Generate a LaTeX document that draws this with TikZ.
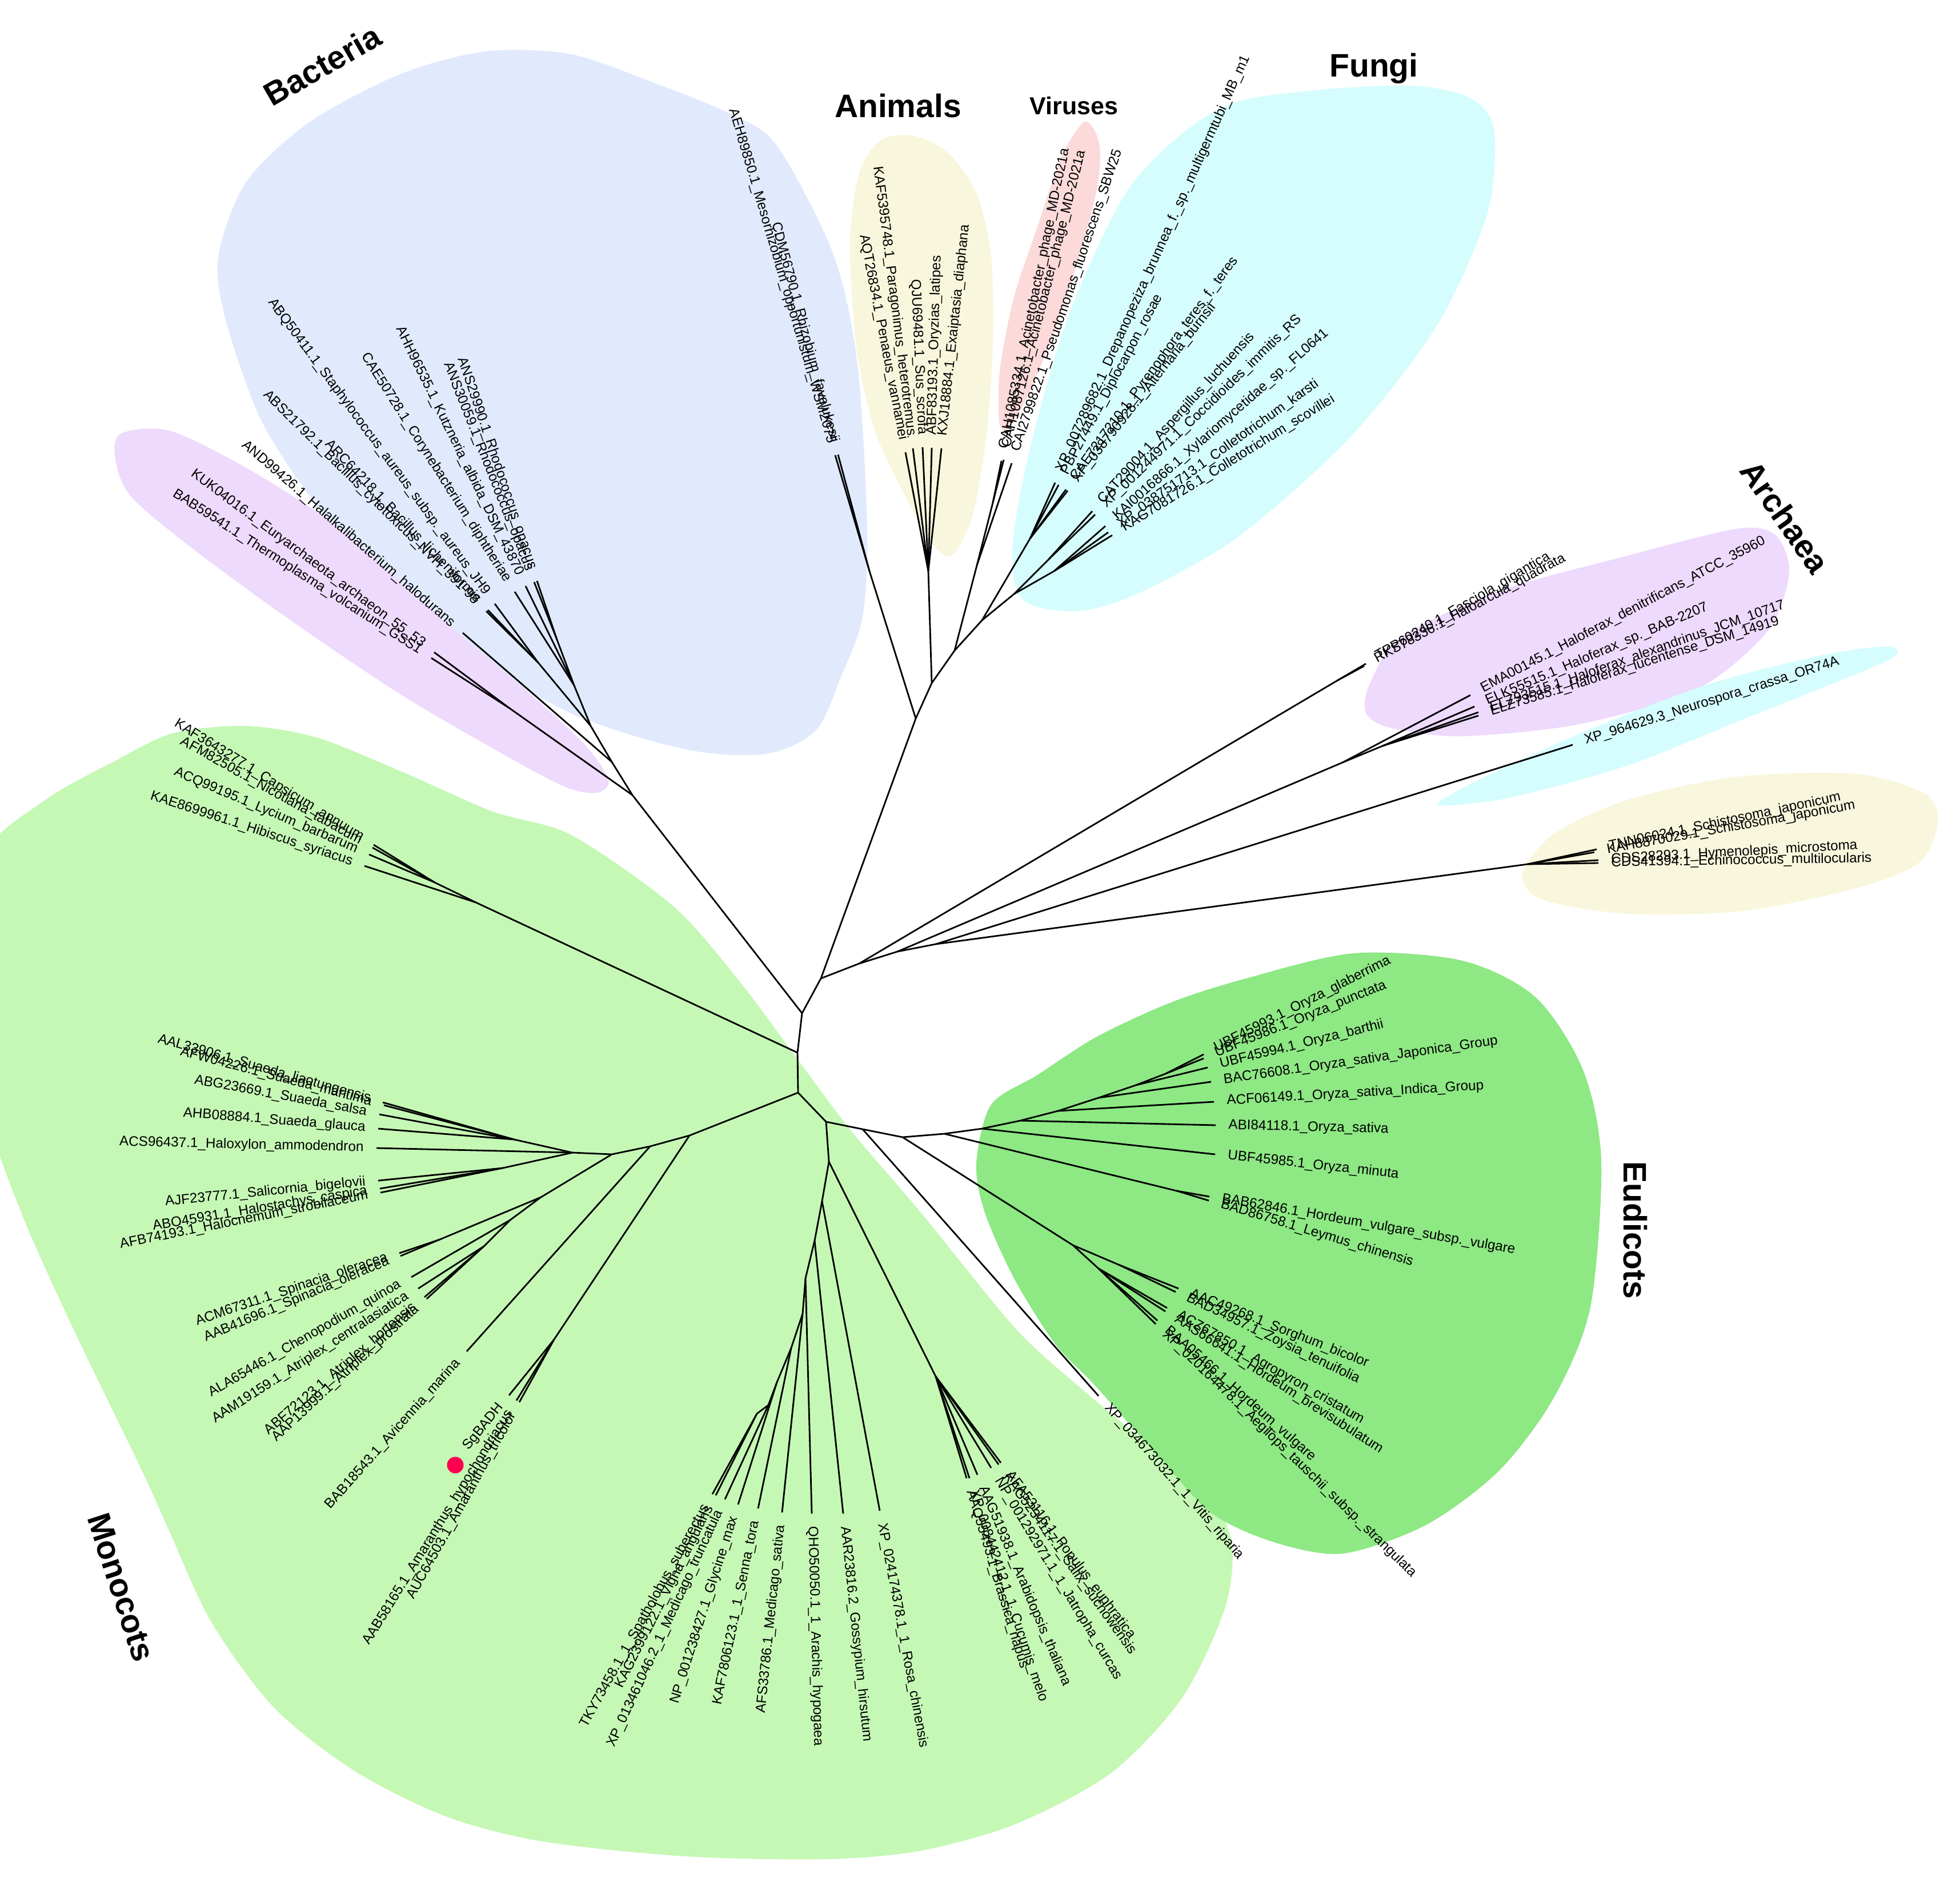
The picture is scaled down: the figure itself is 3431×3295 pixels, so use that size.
\documentclass[tikz,border=0pt]{standalone}
\usepackage{fontspec}
\setmainfont{Liberation Sans}
\definecolor{bacfill}{RGB}{225,234,253}
\definecolor{arcfill}{RGB}{238,218,252}
\definecolor{anifill}{RGB}{248,246,220}
\definecolor{virfill}{RGB}{252,218,218}
\definecolor{funfill}{RGB}{214,253,253}
\definecolor{monfill}{RGB}{197,248,181}
\definecolor{eudfill}{RGB}{142,232,132}
\definecolor{dotred}{RGB}{255,0,80}
\begin{document}
\begin{tikzpicture}[x=0.01cm,y=-0.01cm,
	br/.style={line width=0.8pt,line join=round},
	lr/.style={sloped,pos=1,anchor=west,inner xsep=6pt,inner ysep=0pt,font=\fontsize{6.9}{8}\selectfont},
	ll/.style={lr,anchor=east},
	clade/.style={font=\fontsize{16.2}{19}\selectfont\bfseries}]
\useasboundingbox (0,0) rectangle (3431,3295);
% clade shading
\fill[bacfill] plot[smooth cycle] coordinates {(1150,147) (1280,200) (1360,255) (1459,446) (1501,638) (1518,925) (1510,1080) (1473,1183) (1428,1279) (1340,1320) (1200,1312) (1000,1249) (800,1130) (640,990) (530,852) (453,727) (395,560) (382,450) (430,320) (540,215) (700,130) (850,90) (1000,95)};
\fill[arcfill] plot[smooth cycle] coordinates {(210,760) (300,755) (450,830) (600,930) (780,1090) (900,1190) (1020,1300) (1065,1365) (1045,1388) (990,1378) (880,1320) (700,1215) (500,1080) (330,955) (230,870) (203,810)};
\fill[anifill] plot[smooth cycle] coordinates {(1543,245) (1600,238) (1660,268) (1710,340) (1735,450) (1738,600) (1727,760) (1703,900) (1668,972) (1635,955) (1585,870) (1530,750) (1498,600) (1488,420) (1505,300)};
\fill[virfill] plot[smooth cycle] coordinates {(1899,213) (1924,250) (1922,320) (1895,430) (1853,560) (1805,680) (1770,745) (1750,745) (1750,650) (1775,520) (1815,400) (1858,275)};
\fill[funfill] plot[smooth cycle] coordinates {(1790,1050) (1772,960) (1802,789) (1868,559) (1965,347) (2057,244) (2159,180) (2312,157) (2470,150) (2570,170) (2615,225) (2604,372) (2516,569) (2363,766) (2166,941) (1990,1040) (1884,1070)};
\fill[arcfill] plot[smooth cycle] coordinates {(2391,1248) (2433,1274) (2557,1289) (2764,1268) (2970,1207) (3094,1105) (3132,1003) (3108,937) (3039,926) (2833,977) (2626,1034) (2453,1115) (2398,1197)};
\fill[funfill] plot[smooth cycle] coordinates {(2520,1403) (2620,1350) (2800,1270) (3000,1195) (3200,1145) (3305,1132) (3318,1148) (3250,1180) (3050,1260) (2850,1340) (2650,1395) (2540,1410)};
\fill[anifill] plot[smooth cycle] coordinates {(2665,1530) (2720,1460) (2850,1400) (3040,1360) (3250,1355) (3370,1390) (3392,1440) (3360,1510) (3250,1555) (3050,1595) (2850,1600) (2700,1575)};
\fill[monfill] plot[smooth cycle] coordinates {(-30,1500) (80,1400) (200,1333) (302,1284) (430,1271) (557,1292) (710,1354) (863,1421) (1000,1462) (1179,1587) (1296,1720) (1400,1860) (1490,1980) (1612,2123) (1776,2324) (1888,2427) (2000,2520) (2111,2607) (2156,2701) (2144,2816) (2069,2973) (1945,3104) (1779,3193) (1613,3240) (1447,3255) (1199,3250) (950,3224) (780,3180) (620,3100) (480,2990) (370,2840) (296,2680) (250,2578) (130,2330) (40,2130) (-20,1950) (-40,1700)};
\fill[eudfill] plot[smooth cycle] coordinates {(1735,1934) (1816,1882) (1920,1815) (2050,1755) (2178,1714) (2369,1669) (2560,1682) (2688,1746) (2771,1873) (2803,2033) (2784,2288) (2720,2447) (2624,2575) (2496,2670) (2350,2720) (2230,2700) (2122,2650) (2031,2554) (1918,2427) (1847,2353) (1775,2238) (1724,2123) (1709,2037)};
% clade names
\node[clade,rotate=30] (bac) at (564,114) {Bacteria};
\node[clade] (ani) at (1572,185) {Animals};
\node[clade,font=\fontsize{12.2}{14}\selectfont\bfseries] (vir) at (1880,185) {Viruses};
\node[clade] (fun) at (2405,120) {Fungi};
\node[clade,rotate=-55] (arc) at (3125,905) {Archaea};
\node[clade,rotate=-90] (eud) at (2863,2154) {Eudicots};
\node[clade,rotate=-72] (mon) at (212,2779) {Monocots};
% inner nodes
\coordinate (A) at (1404,1774);
\coordinate (B) at (1437,1713);
\coordinate (B1) at (1504,1687);
\coordinate (B2) at (1571,1666);
\coordinate (B3) at (1638,1653);
\coordinate (FH) at (2340,1192);
\coordinate (HX1) at (2350,1335);
\coordinate (HX2) at (2420,1306);
\coordinate (SJ) at (2674,1513);
\coordinate (C) at (1603,1258);
\coordinate (RZ) at (1522,1000);
\coordinate (G) at (1631,1196);
\coordinate (AN) at (1625,1000);
\coordinate (H) at (1671,1139);
\coordinate (V1) at (1710,990);
\coordinate (VP) at (1738,880);
\coordinate (I) at (1719,1086);
\coordinate (FG1) at (1803,943);
\coordinate (J) at (1775,1040);
\coordinate (FG2a) at (1835,980);
\coordinate (FG2b) at (1845,1000);
\coordinate (K) at (1107,1392);
\coordinate (AK) at (892,1240);
\coordinate (L) at (1071,1334);
\coordinate (M) at (1034,1271);
\coordinate (MR) at (1005,1200);
\coordinate (R1) at (975,1120);
\coordinate (BG) at (942,1160);
\coordinate (D) at (1396,1843);
\coordinate (SO1) at (833,1580);
\coordinate (SO2) at (761,1545);
\coordinate (E) at (1397,1913);
\coordinate (E1) at (1207,1988);
\coordinate (AM) at (970,2345);
\coordinate (E2) at (1138,2007);
\coordinate (E3) at (1071,2021);
\coordinate (CH1) at (947,2096);
\coordinate (SP) at (770,2170);
\coordinate (CH2) at (893,2136);
\coordinate (CH3) at (847,2182);
\coordinate (E4) at (1002,2018);
\coordinate (SU) at (900,1995);
\coordinate (SA) at (880,2045);
\coordinate (F) at (1446,1964);
\coordinate (Fa) at (1510,1977);
\coordinate (Fb) at (1580,1991);
\coordinate (EL) at (1878,2180);
\coordinate (S1) at (1960,2215);
\coordinate (S2) at (1923,2221);
\coordinate (Fc) at (1653,1985);
\coordinate (BP) at (2060,2085);
\coordinate (Fd) at (1719,1976);
\coordinate (Fe) at (1786,1962);
\coordinate (Ff) at (1852,1945);
\coordinate (Fg) at (1923,1922);
\coordinate (Fh) at (1988,1900);
\coordinate (Fi) at (2040,1880);
\coordinate (F2) at (1451,2034);
\coordinate (PG) at (1638,2410);
\coordinate (F3) at (1439,2103);
\coordinate (F4) at (1426,2172);
\coordinate (F5) at (1410,2238);
\coordinate (F6) at (1405,2300);
\coordinate (F7) at (1385,2360);
\coordinate (F8) at (1360,2420);
\coordinate (F9) at (1345,2460);
\coordinate (TK) at (1325,2475);
% backbone
\draw[br] (K) -- (A) -- (D) -- (E) -- (F) -- (F2) -- (F3) -- (F4) -- (F5) -- (F6) -- (F7) -- (F8) -- (F9) -- (TK);
\draw[br] (A) -- (B) -- (C) -- (G) -- (H) -- (I) -- (J) -- (FG2a);
\draw[br] (B) -- (B1) -- (B2) -- (B3) -- (SJ);
\draw[br] (B1) -- (FH) (B2) -- (HX1) -- (HX2) (C) -- (RZ) (G) -- (AN) (H) -- (V1) -- (VP) (I) -- (FG1) (J) -- (FG2b);
\draw[br] (K) -- (L) -- (M) -- (MR) -- (R1) (K) -- (AK) (M) -- (BG);
\draw[br] (D) -- (SO1) -- (SO2);
\draw[br] (E) -- (E1) -- (E2) -- (E3) -- (E4) -- (SU) (E1) -- (AM) (E3) -- (CH1) -- (CH2) -- (CH3) (CH1) -- (SP) (E4) -- (SA);
\draw[br] (F) -- (Fa) -- (Fb) -- (Fc) -- (Fd) -- (Fe) -- (Ff) -- (Fg) -- (Fh) -- (Fi) (Fb) -- (EL) -- (S1) (EL) -- (S2) (Fc) -- (BP) (F2) -- (PG);
% bacteria and archaea (left)
\coordinate (tAEH) at (1462,797); \draw[br] (RZ) -- (tAEH) node[ll] (lAEH) {AEH89850.1\_Mesorhizobium\_opportunistum\_WSM2075};
\coordinate (tCDM) at (1467,796); \draw[br] (RZ) -- (tCDM) node[ll] (lCDM) {CDM56790.1\_Rhizobium\_favelukesii};
\coordinate (tANSa) at (940,1017); \draw[br] (R1) -- (tANSa) node[ll] (lANSa) {ANS29990.1\_Rhodococcus\_opacus};
\coordinate (tANSb) at (935,1019); \draw[br] (R1) -- (tANSb) node[ll] (lANSb) {ANS30059.1\_Rhodococcus\_opacus};
\coordinate (tAHH) at (920,1026); \draw[br] (MR) -- (tAHH) node[ll] (lAHH) {AHH96535.1\_Kutzneria\_albida\_DSM\_43870};
\coordinate (tCAE) at (901,1036); \draw[br] (MR) -- (tCAE) node[ll] (lCAE) {CAE50728.1\_Corynebacterium\_diphtheriae};
\coordinate (tABQ) at (866,1057); \draw[br] (BG) -- (tABQ) node[ll] (lABQ) {ABQ50411.1\_Staphylococcus\_aureus\_subsp.\_aureus\_JH9};
\coordinate (tARC) at (854,1068); \draw[br] (BG) -- (tARC) node[ll] (lARC) {ARC64218.1\_Bacillus\_licheniformis};
\coordinate (tABS) at (851,1070); \draw[br] (BG) -- (tABS) node[ll] (lABS) {ABS21792.1\_Bacillus\_cytotoxicus\_NVH\_391-98};
\coordinate (tAND) at (810,1108); \draw[br] (L) -- (tAND) node[ll] (lAND) {AND99426.1\_Halalkalibacterium\_halodurans};
\coordinate (tKUK) at (760,1142); \draw[br] (AK) -- (tKUK) node[ll] (lKUK) {KUK04016.1\_Euryarchaeota\_archaeon\_55\_53};
\coordinate (tBABt) at (755,1152); \draw[br] (AK) -- (tBABt) node[ll] (lBABt) {BAB59541.1\_Thermoplasma\_volcanium\_GSS1};
% animals, viruses, fungi
\coordinate (tKAFp) at (1598,785); \draw[br] (AN) -- (tKAFp) node[ll] (lKAFp) {KAF5395748.1\_Paragonimus\_heterotremus};
\coordinate (tAQT) at (1585,792); \draw[br] (AN) -- (tAQT) node[ll] (lAQT) {AQT26834.1\_Penaeus\_vannamei};
\coordinate (tQJU) at (1615,783); \draw[br] (AN) -- (tQJU) node[ll] (lQJU) {QJU69481.1\_Sus\_scrofa};
\coordinate (tABFo) at (1631,784); \draw[br] (AN) -- (tABFo) node[lr] (lABFo) {ABF83193.1\_Oryzias\_latipes};
\coordinate (tKXJ) at (1648,785); \draw[br] (AN) -- (tKXJ) node[lr] (lKXJ) {KXJ18884.1\_Exaiptasia\_diaphana};
\coordinate (tCAHa) at (1753,807); \draw[br] (VP) -- (tCAHa) node[lr] (lCAHa) {CAH1085334.1\_Acinetobacter\_phage\_MD-2021a};
\coordinate (tCAHb) at (1757,805); \draw[br] (VP) -- (tCAHb) node[lr] (lCAHb) {CAH1087126.1\_Acinetobacter\_phage\_MD-2021a};
\coordinate (tCAI) at (1771,811); \draw[br] (V1) -- (tCAI) node[lr] (lCAI) {CAI2799822.1\_Pseudomonas\_fluorescens\_SBW25};
\coordinate (tDRE) at (1847,845); \draw[br] (FG1) -- (tDRE) node[lr] (lDRE) {XP\_007289682.1\_Drepanopeziza\_brunnea\_f.\_sp.\_multigermtubi\_MB\_m1};
\coordinate (tPBP) at (1853,849); \draw[br] (FG1) -- (tPBP) node[lr] (lPBP) {PBP27449.1\_Diplocarpon\_rosae};
\coordinate (tPYR) at (1866,857); \draw[br] (FG1) -- (tPYR) node[lr] (lPYR) {CAE7217210.1\_Pyrenophora\_teres\_f.\_teres};
\coordinate (tALT) at (1869,859); \draw[br] (FG1) -- (tALT) node[lr] (lALT) {XP\_038790928.1\_Alternaria\_burnsii};
\coordinate (tCAT) at (1912,895); \draw[br] (FG2a) -- (tCAT) node[lr] (lCAT) {CAT29004.1\_Aspergillus\_luchuensis};
\coordinate (tCOC) at (1917,901); \draw[br] (FG2a) -- (tCOC) node[lr] (lCOC) {XP\_001244971.1\_Coccidioides\_immitis\_RS};
\coordinate (tKAI) at (1935,921); \draw[br] (FG2b) -- (tKAI) node[lr] (lKAI) {KAI0016866.1\_Xylariomycetidae\_sp.\_FL0641};
\coordinate (tKAR) at (1940,932); \draw[br] (FG2b) -- (tKAR) node[lr] (lKAR) {XP\_038751713.1\_Colletotrichum\_karsti};
\coordinate (tSCO) at (1947,937); \draw[br] (FG2b) -- (tSCO) node[lr] (lSCO) {KAG7081726.1\_Colletotrichum\_scovillei};
% right side
\coordinate (tTPP) at (2391,1162); \draw[br] (FH) -- (tTPP) node[lr] (lTPP) {TPP60240.1\_Fasciola\_gigantica};
\coordinate (tRKS) at (2388,1166); \draw[br] (FH) -- (tRKS) node[lr] (lRKS) {RKS78336.1\_Haloarcula\_quadrata};
\coordinate (tEMA) at (2574,1217); \draw[br] (HX1) -- (tEMA) node[lr] (lEMA) {EMA00145.1\_Haloferax\_denitrificans\_ATCC\_35960};
\coordinate (tELK) at (2581,1237); \draw[br] (HX2) -- (tELK) node[lr] (lELK) {ELK55515.1\_Haloferax\_sp.\_BAB-2207};
\coordinate (tELZa) at (2588,1247); \draw[br] (HX2) -- (tELZa) node[lr] (lELZa) {ELZ93515.1\_Haloferax\_alexandrinus\_JCM\_10717};
\coordinate (tELZb) at (2588,1253); \draw[br] (HX2) -- (tELZb) node[lr] (lELZb) {ELZ73585.1\_Haloferax\_lucentense\_DSM\_14919};
\coordinate (tNEU) at (2753,1304); \draw[br] (B3) -- (tNEU) node[lr] (lNEU) {XP\_964629.3\_Neurospora\_crassa\_OR74A};
\coordinate (tTNN) at (2795,1487); \draw[br] (SJ) -- (tTNN) node[lr] (lTNN) {TNN06024.1\_Schistosoma\_japonicum};
\coordinate (tKAH) at (2791,1492); \draw[br] (SJ) -- (tKAH) node[lr] (lKAH) {KAH8870029.1\_Schistosoma\_japonicum};
\coordinate (tHYM) at (2798,1506); \draw[br] (SJ) -- (tHYM) node[lr] (lHYM) {CDS28293.1\_Hymenolepis\_microstoma};
\coordinate (tECH) at (2798,1511); \draw[br] (SJ) -- (tECH) node[lr] (lECH) {CDS41394.1\_Echinococcus\_multilocularis};
% eudicots group
\coordinate (tUBFa) at (2107,1846); \draw[br] (Fi) -- (tUBFa) node[lr] (lUBFa) {UBF45993.1\_Oryza\_glaberrima};
\coordinate (tUBFb) at (2107,1853); \draw[br] (Fi) -- (tUBFb) node[lr] (lUBFb) {UBF45986.1\_Oryza\_punctata};
\coordinate (tUBFc) at (2114,1869); \draw[br] (Fh) -- (tUBFc) node[lr] (lUBFc) {UBF45994.1\_Oryza\_barthii};
\coordinate (tBAC) at (2120,1894); \draw[br] (Fg) -- (tBAC) node[lr] (lBAC) {BAC76608.1\_Oryza\_sativa\_Japonica\_Group};
\coordinate (tACF) at (2125,1929); \draw[br] (Ff) -- (tACF) node[lr] (lACF) {ACF06149.1\_Oryza\_sativa\_Indica\_Group};
\coordinate (tABI) at (2128,1970); \draw[br] (Fe) -- (tABI) node[lr] (lABI) {ABI84118.1\_Oryza\_sativa};
\coordinate (tUBFd) at (2127,2021); \draw[br] (Fd) -- (tUBFd) node[lr] (lUBFd) {UBF45985.1\_Oryza\_minuta};
\coordinate (tBABh) at (2117,2095); \draw[br] (BP) -- (tBABh) node[lr] (lBABh) {BAB62846.1\_Hordeum\_vulgare\_subsp.\_vulgare};
\coordinate (tBADl) at (2116,2102); \draw[br] (BP) -- (tBADl) node[lr] (lBADl) {BAD86758.1\_Leymus\_chinensis};
\coordinate (tAAC) at (2063,2256); \draw[br] (S1) -- (tAAC) node[lr] (lAAC) {AAC49268.1\_Sorghum\_bicolor};
\coordinate (tBADz) at (2058,2262); \draw[br] (S1) -- (tBADz) node[lr] (lBADz) {BAD34957.1\_Zoysia\_tenuifolia};
\coordinate (tACZ) at (2043,2290); \draw[br] (S2) -- (tACZ) node[lr] (lACZ) {ACZ67850.1\_Agropyron\_cristatum};
\coordinate (tAAS) at (2040,2296); \draw[br] (S2) -- (tAAS) node[lr] (lAAS) {AAS66641.1\_Hordeum\_brevisubulatum};
\coordinate (tBAA) at (2026,2312); \draw[br] (S2) -- (tBAA) node[lr] (lBAA) {BAA05466.1\_Hordeum\_vulgare};
\coordinate (tAEG) at (2023,2318); \draw[br] (S2) -- (tAEG) node[lr] (lAEG) {XP\_020164478.1\_Aegilops\_tauschii\_subsp.\_strangulata};
\coordinate (tVIT) at (1923,2444); \draw[br] (Fa) -- (tVIT) node[lr] (lVIT) {XP\_034673032.1\_1\_Vitis\_riparia};
% lower fan
\coordinate (tPOP) at (1752,2561); \draw[br] (PG) -- (tPOP) node[lr] (lPOP) {AFA53116.1\_Populus\_euphratica};
\coordinate (tSAL) at (1748,2564); \draw[br] (PG) -- (tSAL) node[lr] (lSAL) {KAG5234117.1\_Salix\_suchowensis};
\coordinate (tJAT) at (1735,2570); \draw[br] (PG) -- (tJAT) node[lr] (lJAT) {NP\_001292971.1\_1\_Jatropha\_curcas};
\coordinate (tARA) at (1711,2582); \draw[br] (PG) -- (tARA) node[lr] (lARA) {AAG51938.1\_Arabidopsis\_thaliana};
\coordinate (tCUC) at (1697,2588); \draw[br] (PG) -- (tCUC) node[lr] (lCUC) {XP\_008442412.1\_1\_Cucumis\_melo};
\coordinate (tBRA) at (1692,2588); \draw[br] (PG) -- (tBRA) node[lr] (lBRA) {AAQ55493.1\_Brassica\_napus};
\coordinate (tROS) at (1540,2645); \draw[br] (F3) -- (tROS) node[lr] (lROS) {XP\_024174378.1\_1\_Rosa\_chinensis};
\coordinate (tGOS) at (1476,2650); \draw[br] (F4) -- (tGOS) node[lr] (lGOS) {AAR23816.2\_Gossypium\_hirsutum};
\coordinate (tQHO) at (1421,2650); \draw[br] (F5) -- (tQHO) node[lr] (lQHO) {QHO50050.1\_1\_Arachis\_hypogaea};
\coordinate (tAFS) at (1369,2648); \draw[br] (F6) -- (tAFS) node[ll] (lAFS) {AFS33786.1\_Medicago\_sativa};
\coordinate (tSEN) at (1327,2641); \draw[br] (F7) -- (tSEN) node[ll] (lSEN) {KAF7806123.1\_1\_Senna\_tora};
\coordinate (tGLY) at (1292,2634); \draw[br] (F8) -- (tGLY) node[ll] (lGLY) {NP\_001238427.1\_Glycine\_max};
\coordinate (tMTR) at (1269,2625); \draw[br] (F9) -- (tMTR) node[ll] (lMTR) {XP\_013461046.2\_1\_Medicago\_truncatula};
\coordinate (tVIG) at (1253,2618); \draw[br] (TK) -- (tVIG) node[ll] (lVIG) {KAG2399122.1\_Vigna\_angularis};
\coordinate (tTKY) at (1247,2616); \draw[br] (TK) -- (tTKY) node[ll] (lTKY) {TKY73458.1\_1\_Spatholobus\_suberectus};
% amaranthaceae and others
\coordinate (tAUC) at (909,2455); \draw[br] (AM) -- (tAUC) node[ll] (lAUC) {AUC64503.1\_Amaranthus\_tricolor};
\coordinate (tAAB) at (904,2452); \draw[br] (AM) -- (tAAB) node[ll] (lAAB) {AAB58165.1\_Amaranthus\_hypochondriacus};
\coordinate (tSG) at (891,2443); \draw[br] (AM) -- (tSG) node[ll] (lSG) {SgBADH};
\node[circle,fill=dotred,inner sep=0pt,minimum size=0.29cm] (sgdot) at (797,2565) {};
\coordinate (tAVI) at (817,2366); \draw[br] (E2) -- (tAVI) node[ll] (lAVI) {BAB18543.1\_Avicennia\_marina};
\coordinate (tAAP) at (747,2274); \draw[br] (CH3) -- (tAAP) node[ll] (lAAP) {AAP13999.1\_Atriplex\_prostrata};
\coordinate (tABFa) at (743,2271); \draw[br] (CH3) -- (tABFa) node[ll] (lABFa) {ABF72123.1\_Atriplex\_hortensis};
\coordinate (tAAM) at (732,2256); \draw[br] (CH3) -- (tAAM) node[ll] (lAAM) {AAM19159.1\_Atriplex\_centralasiatica};
\coordinate (tALA) at (720,2236); \draw[br] (CH2) -- (tALA) node[ll] (lALA) {ALA65446.1\_Chenopodium\_quinoa};
\coordinate (tAABs) at (701,2199); \draw[br] (SP) -- (tAABs) node[ll] (lAABs) {AAB41696.1\_Spinacia\_oleracea};
\coordinate (tACM) at (699,2194); \draw[br] (SP) -- (tACM) node[ll] (lACM) {ACM67311.1\_Spinacia\_oleracea};
\coordinate (tAFB) at (666,2088); \draw[br] (SA) -- (tAFB) node[ll] (lAFB) {AFB74193.1\_Halocnemum\_strobilaceum};
\coordinate (tABO) at (665,2081); \draw[br] (SA) -- (tABO) node[ll] (lABO) {ABO45931.1\_Halostachys\_caspica};
\coordinate (tAJF) at (662,2067); \draw[br] (SA) -- (tAJF) node[ll] (lAJF) {AJF23777.1\_Salicornia\_bigelovii};
\coordinate (tACS) at (659,2010); \draw[br] (E4) -- (tACS) node[ll] (lACS) {ACS96437.1\_Haloxylon\_ammodendron};
\coordinate (tAHB) at (662,1976); \draw[br] (SU) -- (tAHB) node[ll] (lAHB) {AHB08884.1\_Suaeda\_glauca};
\coordinate (tABG) at (664,1951); \draw[br] (SU) -- (tABG) node[ll] (lABG) {ABG23669.1\_Suaeda\_salsa};
\coordinate (tAFW) at (672,1935); \draw[br] (SU) -- (tAFW) node[ll] (lAFW) {AFW04226.1\_Suaeda\_maritima};
\coordinate (tAAL) at (670,1930); \draw[br] (SU) -- (tAAL) node[ll] (lAAL) {AAL33906.1\_Suaeda\_liaotungensis};
\coordinate (tKAE) at (638,1516); \draw[br] (SO1) -- (tKAE) node[ll] (lKAE) {KAE8699961.1\_Hibiscus\_syriacus};
\coordinate (tACQ) at (646,1496); \draw[br] (SO2) -- (tACQ) node[ll] (lACQ) {ACQ99195.1\_Lycium\_barbarum};
\coordinate (tAFM) at (652,1484); \draw[br] (SO2) -- (tAFM) node[ll] (lAFM) {AFM82505.1\_Nicotiana\_tabacum};
\coordinate (tKAFc) at (654,1479); \draw[br] (SO2) -- (tKAFc) node[ll] (lKAFc) {KAF3643277.1\_Capsicum\_annuum};
\end{tikzpicture}
\end{document}
